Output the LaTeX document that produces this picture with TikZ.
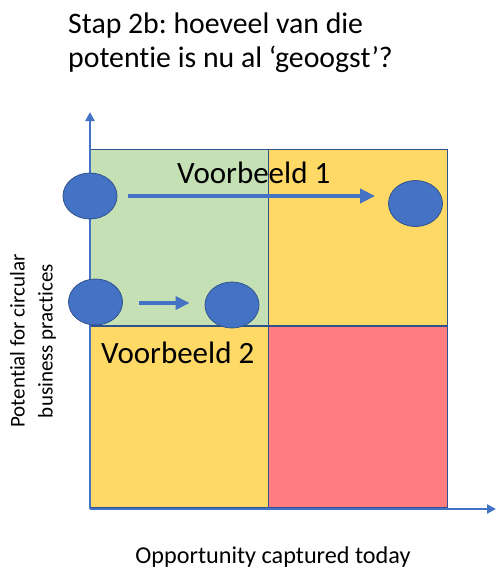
\documentclass[tikz,border=0pt]{standalone}
\usepackage{fontspec}
\setmainfont[Ligatures={NoCommon}]{Carlito}
\usetikzlibrary{arrows.meta,shapes.geometric}
\definecolor{qgreen}{HTML}{C5E0B4}
\definecolor{qyellow}{HTML}{FFD966}
\definecolor{qred}{HTML}{FF7C80}
\definecolor{cblue}{HTML}{4472C4}
\definecolor{cedge}{HTML}{2F528F}
\frenchspacing
\tikzset{
  quad/.style={draw=cedge,line width=1pt},
  axisline/.style={draw=cblue,line width=2.5pt,-{Triangle[length=9pt,width=9pt]}},
  dot/.style={ellipse,fill=cblue,draw=cedge,line width=0.8pt,minimum width=54pt,minimum height=46pt,inner sep=0pt},
  bigarrow/.style={draw=cblue,line width=4pt,-{Triangle[length=15pt,width=14pt]}},
  smallarrow/.style={draw=cblue,line width=3.5pt,-{Triangle[length=14pt,width=13pt]}},
  lbl/.style={font=\fontsize{31}{36}\selectfont,inner sep=0pt,anchor=base west},
  ttl/.style={font=\fontsize{29.8}{34}\selectfont,inner sep=0pt,anchor=base west},
}
\begin{document}
\begin{tikzpicture}[x=1pt,y=-1pt]
\useasboundingbox[fill=white] (0,0) rectangle (496,570);
% title
\node[ttl] (t1) at (68,33) {Stap 2b: hoeveel van die};
\node[ttl] (t2) at (68,67) {potentie is nu al ‘geoogst’?};
% quadrants
\path[quad,fill=qgreen] (90,149) rectangle (268,325);
\path[quad,fill=qyellow] (268,149) rectangle (447,325);
\path[quad,fill=qyellow] (90,326) rectangle (268,507);
\path[quad,fill=qred] (268,326) rectangle (447,507);
% axes
\coordinate (o) at (90,509);
\coordinate (ytip) at (90,112);
\coordinate (xtip) at (496,509);
\draw[axisline] (o) -- (ytip);
\draw[axisline] (o) -- (xtip);
% labels
\node[lbl] (v1) at (177,183) {Voorbeeld 1};
\node[lbl] (v2) at (101,363) {Voorbeeld 2};
% dots
\node[dot] (c1) at (90,196) {};
\node[dot] (c2) at (415.5,203.5) {};
\node[dot] (c3) at (95.5,302) {};
\node[dot] (c4) at (232,305) {};
% arrows
\draw[bigarrow] ([xshift=11pt]c1.east) -- ([xshift=-13pt]c1.east -| c2.west);
\draw[smallarrow] ([xshift=16pt,yshift=-1pt]c3.east) -- ([xshift=-15pt,yshift=-1pt]c3.east -| c4.west);
% axis titles
\node[font=\fontsize{24.2}{28}\selectfont,inner sep=0pt,anchor=base] (xl) at (273,563) {Opportunity captured today};
\node[font=\fontsize{21}{28}\selectfont,inner sep=0pt,rotate=90,align=center] (yl) at (33,341) {Potential for circular\\business practices};
\end{tikzpicture}
\end{document}
